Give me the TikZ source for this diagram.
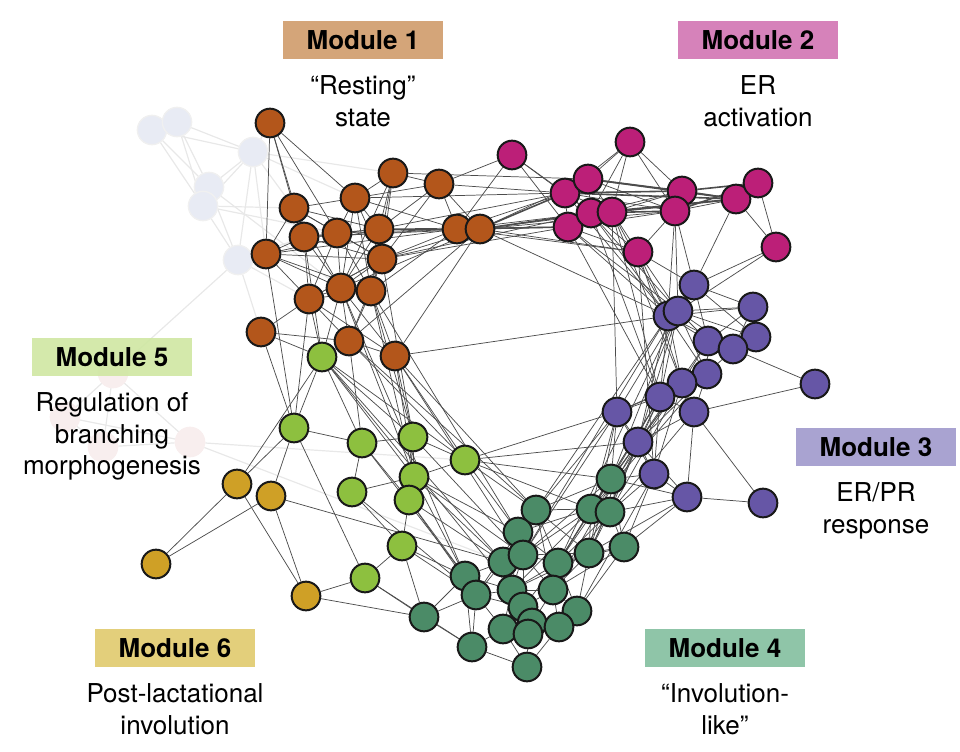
\documentclass[tikz,border=0pt]{standalone}
\usepackage{fontspec}
\setmainfont{TeX Gyre Heros}
\definecolor{restbrown}{HTML}{B3561B}
\definecolor{ermag}{HTML}{BC1F78}
\definecolor{prpurple}{HTML}{6656A6}
\definecolor{invgreen}{HTML}{4B8B67}
\definecolor{branchgreen}{HTML}{8DC03F}
\definecolor{postyellow}{HTML}{CFA026}
\definecolor{boxone}{HTML}{D4A579}
\definecolor{boxtwo}{HTML}{D682BA}
\definecolor{boxthree}{HTML}{A9A3D1}
\definecolor{boxfour}{HTML}{8FC5A8}
\definecolor{boxfive}{HTML}{CFE7A2}
\definecolor{boxsix}{HTML}{E3CF7B}
\definecolor{ghostblue}{HTML}{E8EBF4}
\definecolor{ghostpink}{HTML}{F8EEEE}
\usetikzlibrary{positioning,backgrounds}

\begin{document}
\begin{tikzpicture}[x=0.75pt,y=-0.75pt,
    gene/.style={circle,draw=black!90,line width=1.5pt,minimum size=21.5pt,inner sep=0pt},
    ghost/.style={circle,draw=black!6,line width=1pt,minimum size=22pt,inner sep=0pt},
    link/.style={draw=black!70,line width=0.55pt},
    heavy/.style={draw=black!70,line width=1.2pt},
    faint/.style={draw=black!9,line width=0.9pt},
    modbox/.style={rectangle,minimum width=120pt,minimum height=29pt,inner sep=0pt,
        font=\fontsize{19.5}{23.5}\selectfont\bfseries},
    modtext/.style={align=center,inner sep=0pt,font=\fontsize{19.5}{23.5}\selectfont}]
    \useasboundingbox (0,0) rectangle (960,752);

    % Faded genes
    \foreach \i/\x/\y in {1/152/130,2/177/122,3/253/152,4/209/187,5/203/206,6/238/260} {
        \node[ghost,fill=ghostblue] (g\i) at (\x,\y) {};
    }
    \foreach \i/\x/\y in {1/113/373,2/65/417,3/103/447,4/190/442} {
        \node[ghost,fill=ghostpink,draw=ghostpink] (p\i) at (\x,\y) {};
    }

    % Module boxes
    \node[modbox,fill=boxone] (m1) at (363,40) {Module 1};
    \node[modbox,fill=boxtwo] (m2) at (758,40) {Module 2};
    \node[modbox,fill=boxthree] (m3) at (876,447) {Module 3};
    \node[modbox,fill=boxfour] (m4) at (725,648) {Module 4};
    \node[modbox,fill=boxfive,fill opacity=0.9,text opacity=1] (m5) at (112,357) {Module 5};
    \node[modbox,fill=boxsix] (m6) at (175,648) {Module 6};

    \node[modtext,below=12pt of m1] (t1) {“Resting”\\state};
    \node[modtext,below=12pt of m2] (t2) {ER\\activation};
    \node[modtext,below=12pt of m3] (t3) {ER/PR\\response};
    \node[modtext,below=12pt of m4] (t4) {“Involution-\\like”};
    \node[modtext,below=12pt of m5] (t5) {Regulation of\\branching\\morphogenesis};
    \node[modtext,below=12pt of m6] (t6) {Post-lactational\\involution};

    % Module 1 genes
    \foreach \i/\x/\y in {1/270/123,2/393/173,3/439/184,4/294/208,5/355/198,6/304/237,
        7/337/233,8/379/229,9/457/229,10/480/229,11/266/254,12/382/259,13/341/288,
        14/371/291,15/309/299,16/261/332,17/349/341,18/395/356} {
        \node[gene,fill=restbrown] (a\i) at (\x,\y) {};
    }

    % Module 2 genes
    \foreach \i/\x/\y in {1/512/155,2/630/142,3/565/193,4/588/179,5/568/227,6/591/213,
        7/612/212,8/682/191,9/675/211,10/736/199,11/758/183,12/638/252,13/776/247} {
        \node[gene,fill=ermag] (b\i) at (\x,\y) {};
    }

    % Module 3 genes
    \foreach \i/\x/\y in {1/694/285,2/668/316,3/678/311,4/753/307,5/756/337,6/708/341,
        7/733/349,8/707/374,9/682/383,10/815/384,11/660/397,12/617/412,13/694/412,
        14/638/442,15/654/474,16/687/497,17/763/503} {
        \node[gene,fill=prpurple] (c\i) at (\x,\y) {};
    }

    % Module 4 genes
    \foreach \i/\x/\y in {1/611/479,2/536/510,3/591/509,4/610/512,5/518/532,6/624/547,
        7/589/553,8/503/562,9/523/555,10/558/563,11/465/576,12/476/595,13/512/590,
        14/553/590,15/523/607,16/577/611,17/424/617,18/503/629,19/532/623,20/528/634,
        21/559/627,22/472/647,23/527/667} {
        \node[gene,fill=invgreen] (d\i) at (\x,\y) {};
    }

    % Module 5 genes
    \foreach \i/\x/\y in {1/322/357,2/294/428,3/362/443,4/413/437,5/465/460,6/414/477,
        7/352/492,8/409/500,9/402/546,10/365/578} {
        \node[gene,fill=branchgreen] (e\i) at (\x,\y) {};
    }

    % Module 6 genes
    \foreach \i/\x/\y in {1/237/484,2/271/496,3/156/564,4/306/596} {
        \node[gene,fill=postyellow] (f\i) at (\x,\y) {};
    }

    \begin{pgfonlayer}{background}
    % Faded links
    \foreach \s/\t in {g1/g2,g1/g3,g2/g3,g1/g4,g2/g4,g1/g5,g2/g5,g3/g4,g3/g5,g4/g5,
        g3/g6,g4/g6,g5/g6,g3/a1,g3/a4,g3/a11,g3/a5,g3/a2,g5/a4,g6/a11,g6/a6,g6/a15,
        g6/a16,g5/a7,g6/p1,g4/a13,p1/p2,p1/p3,p1/p4,p2/p3,p3/p4,p2/p4,p4/e5,p4/d8} {
        \draw[faint] (\s) -- (\t);
    }

    % Links inside modules
    \foreach \s/\t in {a1/a4,a1/a11,a1/a5,a1/a6,a1/a7,a2/a5,a2/a8,a2/a12,a2/a3,a2/a13,
        a2/a14,a3/a9,a3/a10,a3/a8,a3/a12,a3/a5,a4/a5,a4/a6,a4/a7,a4/a8,a4/a11,a4/a13,
        a5/a7,a5/a8,a5/a12,a5/a13,a5/a9,a5/a14,a6/a7,a6/a11,a6/a13,a6/a15,a6/a12,a6/a8,
        a7/a8,a7/a12,a7/a13,a7/a14,a7/a15,a8/a9,a8/a12,a8/a13,a8/a14,a8/a10,a9/a10,
        a9/a12,a9/a11,a9/a14,a10/a12,a10/a13,a10/a6,a10/a18,a10/a17,a11/a12,a11/a13,
        a11/a15,a11/a14,a12/a13,a12/a14,a12/a15,a12/a17,a13/a14,a13/a15,a13/a17,
        a13/a18,a14/a17,a14/a18,a14/a15,a15/a17,a15/a18,a16/a17,a16/a15,a17/a18,
        a4/a12,a11/a8,a7/a9,a6/a9,a15/a12,
        b1/b3,b1/b5,b1/b6,b2/b3,b2/b4,b2/b6,b2/b7,b2/b8,b2/b9,b3/b4,b3/b5,b3/b6,b3/b7,
        b3/b9,b4/b6,b4/b7,b5/b6,b5/b7,b5/b12,b5/b9,b6/b7,b6/b12,b7/b12,b7/b8,b8/b9,
        b9/b10,b9/b12,b10/b11,b10/b13,b11/b13,b4/b9,b6/b8,
        c1/c2,c1/c3,c1/c4,c1/c5,c1/c6,c2/c3,c2/c6,c2/c7,c2/c8,c2/c9,c2/c4,c3/c4,c3/c6,
        c3/c7,c3/c8,c3/c5,c4/c5,c4/c6,c4/c7,c5/c7,c5/c6,c6/c7,c6/c8,c6/c9,c7/c8,c7/c10,
        c8/c9,c8/c11,c8/c13,c9/c11,c9/c13,c9/c12,c10/c13,c11/c12,c11/c13,c11/c14,
        c12/c14,c13/c14,c13/c16,c13/c17,c14/c15,c14/c16,c15/c16,c16/c17,c2/c11,c3/c11,
        c3/c12,c2/c14,c3/c14,c6/c14,c8/c14,c9/c14,c11/c15,c12/c15,c9/c15,c8/c12,
        d1/d2,d1/d3,d1/d4,d1/d6,d1/d7,d1/d9,d1/d10,d2/d3,d2/d5,d2/d9,d2/d7,d2/d10,
        d2/d14,d3/d4,d3/d5,d3/d7,d3/d9,d3/d10,d3/d13,d4/d6,d4/d7,d4/d10,d4/d14,d5/d8,
        d5/d9,d5/d10,d5/d13,d5/d12,d6/d7,d6/d10,d6/d14,d6/d16,d7/d9,d7/d10,d7/d13,
        d7/d14,d7/d16,d8/d9,d8/d11,d8/d12,d8/d13,d8/d15,d9/d10,d9/d13,d9/d14,d9/d15,
        d10/d13,d10/d14,d10/d15,d10/d16,d11/d12,d11/d13,d11/d17,d12/d13,d12/d15,
        d12/d18,d12/d22,d13/d14,d13/d15,d13/d18,d13/d19,d14/d15,d14/d16,d14/d19,
        d14/d21,d15/d18,d15/d19,d15/d20,d15/d21,d16/d21,d16/d19,d17/d22,d17/d12,
        d18/d20,d18/d22,d18/d23,d19/d20,d19/d21,d20/d21,d20/d23,d21/d23,d22/d23,
        d11/d22,d16/d20,
        e1/e2,e1/e3,e1/e4,e1/e5,e1/e6,e2/e3,e2/e10,e3/e4,e3/e7,e4/e5,e4/e6,e4/e8,
        e5/e6,e6/e8,e6/e7,e7/e9,e8/e9,e9/e10,e3/e8,
        f1/f3,f2/f3,f1/f4,f2/f4} {
        \draw[link] (\s) -- (\t);
    }
    \foreach \s/\t in {b3/b8,b4/b8,b6/b10,b7/b10,b3/b10,b8/b11,b9/b11,b4/b10,b8/b10,
        b6/b9,a9/b5,a10/b6,a10/b3} {
        \draw[heavy] (\s) -- (\t);
    }

    % Links between modules
    \foreach \s/\t in {a9/b3,a9/b6,a9/b1,a10/b5,a10/b7,a10/b4,a10/b9,a3/b1,a3/b3,
        a8/b5,a8/b3,a12/b6,a9/b12,a10/b12,a2/b4,a10/c2,a18/c2,a17/d2,a14/d5,a13/d11,
        a18/d2,a18/d9,a5/b3,a12/b5,
        b12/c1,b12/c2,b12/c3,b9/c1,b9/c3,b10/c1,b13/c1,b13/c3,b5/c2,b5/c3,b6/c2,b6/c3,
        b7/c2,b7/c9,b6/c11,b5/c11,b7/c11,b12/c9,b9/c2,b7/c12,b12/c15,b3/c2,
        c12/d1,c12/d3,c14/d1,c14/d3,c14/d4,c15/d1,c15/d4,c15/d6,c16/d6,c16/d4,c16/d1,
        c11/d1,c11/d3,c9/d1,c9/d4,c12/d2,c12/d7,c14/d7,c8/d3,c2/d2,c3/d1,c2/d9,c3/d10,
        c9/d10,c11/d7,c13/d4,c16/d7,c15/d16,c14/d14,c12/d9,c11/d10,
        e5/d2,e5/d5,e5/d3,e6/d5,e6/d8,e6/d11,e8/d8,e8/d12,e9/d11,e9/d12,e9/d17,
        e10/d17,e10/d22,e4/d9,e3/d11,e1/d8,e7/d12,e8/d11,e6/d9,e1/d13,e5/c12,e5/c14,
        e5/d1,
        a16/e1,a15/e1,a17/e1,a13/e1,a6/e1,a12/e4,a14/e4,a18/e4,a17/e3,a13/e6,a14/e6,
        a17/e5,a18/e5,a18/e6,a15/e2,a16/e2,a11/e2,
        f1/e1,f1/e2,f2/e2,f4/e10,f4/d17,f2/d8} {
        \draw[link] (\s) -- (\t);
    }
    \end{pgfonlayer}
\end{tikzpicture}
\end{document}
